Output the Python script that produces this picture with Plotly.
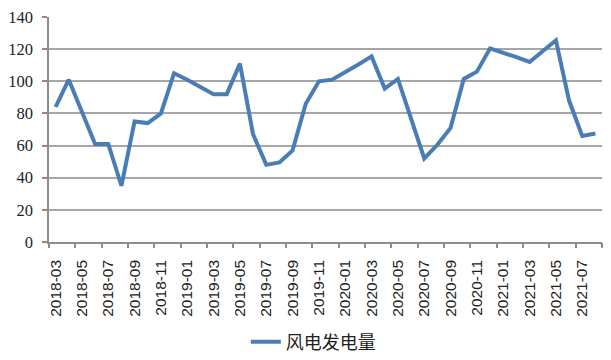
import plotly.graph_objects as go

months = ["2018-03","2018-04","2018-05","2018-06","2018-07","2018-08","2018-09","2018-10","2018-11","2018-12",
          "2019-01","2019-02","2019-03","2019-04","2019-05","2019-06","2019-07","2019-08","2019-09","2019-10","2019-11","2019-12",
          "2020-01","2020-02","2020-03","2020-04","2020-05","2020-06","2020-07","2020-08","2020-09","2020-10","2020-11","2020-12",
          "2021-01","2021-02","2021-03","2021-04","2021-05","2021-06","2021-07","2021-08"]
wind_power = [84, 101, 81, 61, 61, 35, 75, 74, 80, 105,
              101, 96.5, 92, 92, 111, 67, 48, 49.5, 57, 86, 100, 101,
              105.5, 110.5, 115.5, 95.5, 101.5, 77, 52, 60.5, 71, 101.5, 106, 120.5,
              118, 115, 112, 118.5, 125.5, 88, 66, 67.5]
series_name = "风电发电量"
y_ticks = [0, 20, 40, 60, 80, 100, 120, 140]

idx = list(range(len(months)))
label_idx = idx[::2]
label_text = [months[i] for i in label_idx]
boundary_ticks = [i - 0.5 for i in idx[::2]] + [len(months) - 0.5]

fig = go.Figure()
fig.add_trace(go.Scatter(x=idx, y=wind_power, mode="lines", name=series_name,
                         line=dict(color="#4a7cb6", width=4)))
# helper invisible trace for tick-mark axis
fig.add_trace(go.Scatter(x=[-0.5, len(months) - 0.5], y=[None, None], xaxis="x2",
                         showlegend=False, hoverinfo="skip", mode="lines"))

# page body has an 8px default margin, so the figure is sized to fit the window
fig.update_layout(
    width=603, height=352,
    margin=dict(l=41, r=9, t=9, b=118, autoexpand=False),
    plot_bgcolor="white", paper_bgcolor="white",
    showlegend=True,
    legend=dict(orientation="h", x=0.478, xanchor="center", y=-0.445, yanchor="middle",
                font=dict(family="Noto Sans CJK SC", size=18, color="#222")),
    xaxis=dict(range=[-0.5, len(months) - 0.5], tickvals=label_idx, ticktext=label_text,
               tickangle=-90, ticks="", showgrid=False, zeroline=False, automargin=False,
               showline=True, linecolor="#8c8c8c", linewidth=1.5,
               tickfont=dict(family="Liberation Sans, Arial, sans-serif", size=15.5, color="#222"),
               ticklabelstandoff=10),
    xaxis2=dict(range=[-0.5, len(months) - 0.5], overlaying="x", anchor="y", side="bottom",
                tickvals=boundary_ticks, ticks="outside", ticklen=5, tickcolor="#8c8c8c",
                tickwidth=1.5, showticklabels=False, showgrid=False, zeroline=False,
                showline=False, automargin=False),
    yaxis=dict(range=[0, 140], tickvals=y_ticks, ticks="outside", ticklen=5,
               tickcolor="#8c8c8c", tickwidth=1.5, automargin=False,
               showgrid=True, gridcolor="#a6a6a6", gridwidth=1.5, zeroline=False,
               showline=True, linecolor="#8c8c8c", linewidth=1.5,
               ticklabeloverflow="allow",
               tickfont=dict(family="Liberation Serif, Times New Roman, serif", size=16.5, color="#222"),
               ticklabelstandoff=6),
)

fig.write_html("out.html")
